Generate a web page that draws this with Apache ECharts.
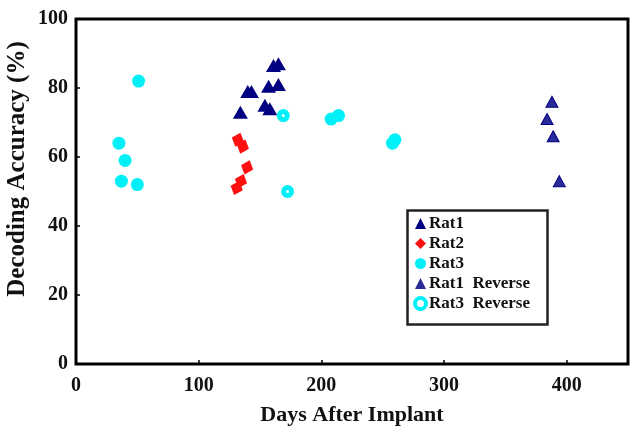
<!DOCTYPE html>
<html>
<head>
<meta charset="utf-8">
<script src="https://cdn.jsdelivr.net/npm/echarts@6/dist/echarts.min.js"></script>
<style>
html,body{margin:0;padding:0;background:#fff;}
#chart{width:636px;height:432px;}
</style>
</head>
<body>
<div id="chart"></div>
<script>
// Data
var rat1Days = [134, 140, 143, 157, 165, 154, 158, 161, 165];
var rat1Acc  = [73, 79, 79, 80.5, 81, 75, 74, 86.5, 87];
var rat2Days = [132, 136, 139.5, 134.5, 131];
var rat2Acc  = [65, 63, 57, 53, 51];
var rat3Days = [51, 35, 40, 37, 50, 208, 214, 258, 260];
var rat3Acc  = [82, 64, 59, 53, 52, 71, 72, 64, 65];
var rat1RevDays = [388, 384, 389, 394];
var rat1RevAcc  = [76, 71, 66, 53];
var rat3RevDays = [169, 172.5];
var rat3RevAcc  = [72, 50];
var xTicks = [0, 100, 200, 300, 400];
var yTicks = [0, 20, 40, 60, 80, 100];

function pairs(xs, ys) { return xs.map(function (x, i) { return [x, ys[i]]; }); }

var font = 'Liberation Serif';
var chart = echarts.init(document.getElementById('chart'));
chart.setOption({
  animation: false,
  backgroundColor: '#fff',
  grid: { left: 76, right: 8, top: 19, bottom: 68, show: true, borderColor: '#000', borderWidth: 3, outerBoundsMode: 'none', containLabel: false },
  xAxis: {
    type: 'value', min: 0, max: 450, interval: 100,
    name: 'Days After Implant', nameLocation: 'middle', nameGap: 40,
    nameTextStyle: { fontFamily: font, fontSize: 22, fontWeight: 'bold', color: '#111' },
    axisLine: { show: false },
    axisTick: { show: true, inside: true, length: 4, lineStyle: { color: '#000', width: 1.5 } },
    splitLine: { show: false },
    axisLabel: {
      fontFamily: font, fontSize: 20, fontWeight: 'bold', color: '#111', margin: 12,
      formatter: function (v) { return xTicks.indexOf(v) >= 0 ? String(v) : ''; }
    }
  },
  yAxis: {
    type: 'value', min: 0, max: 100, interval: 20,
    axisLine: { show: false },
    axisTick: { show: true, inside: true, length: 4, lineStyle: { color: '#000', width: 1.5 } },
    splitLine: { show: false },
    axisLabel: {
      fontFamily: font, fontSize: 20, fontWeight: 'bold', color: '#111', margin: 8,
      formatter: function (v) { return yTicks.indexOf(v) >= 0 ? String(v) : ''; }
    }
  },
  legend: {
    orient: 'vertical', left: 408, top: 210,
    itemWidth: 11, itemHeight: 11, itemGap: 3,
    textStyle: { fontFamily: font, fontSize: 17, fontWeight: 'bold', color: '#111', lineHeight: 17, padding: [0, 0, 0, -2] },
    data: [
      { name: 'Rat1' },
      { name: 'Rat2' },
      { name: 'Rat3' },
      { name: 'Rat1  Reverse', itemStyle: { borderWidth: 0 } },
      { name: 'Rat3  Reverse', itemStyle: { borderWidth: 4 } }
    ]
  },
  graphic: [{
    type: 'rect', left: 405, top: 208, z: 100,
    shape: { width: 140, height: 114 },
    style: { fill: 'none', stroke: '#222', lineWidth: 2.5 }
  }, {
    type: 'text', x: 18, y: 169, rotation: Math.PI / 2, z: 100,
    style: { text: 'Decoding Accuracy (%)', fontFamily: font, fontSize: 25, fontWeight: 'bold', fill: '#111', align: 'center', verticalAlign: 'middle' }
  }],
  series: [
    { name: 'Rat1', type: 'scatter', symbol: 'triangle', symbolSize: [15, 13],
      itemStyle: { color: '#000080', opacity: 1 }, data: pairs(rat1Days, rat1Acc) },
    { name: 'Rat2', type: 'scatter', symbol: 'diamond', symbolSize: [13, 15], symbolRotate: -20,
      itemStyle: { color: '#ff1010', opacity: 1 }, data: pairs(rat2Days, rat2Acc) },
    { name: 'Rat3', type: 'scatter', symbol: 'circle', symbolSize: 13,
      itemStyle: { color: '#00f0f8', opacity: 1 }, data: pairs(rat3Days, rat3Acc) },
    { name: 'Rat1  Reverse', type: 'scatter', symbol: 'triangle', symbolSize: [12, 11],
      itemStyle: { color: '#2a2a98', borderColor: '#000080', borderWidth: 1, opacity: 1 }, data: pairs(rat1RevDays, rat1RevAcc) },
    { name: 'Rat3  Reverse', type: 'scatter', symbol: 'circle', symbolSize: 8,
      itemStyle: { color: '#ffffff', borderColor: '#00f0f8', borderWidth: 5, opacity: 1 }, data: pairs(rat3RevDays, rat3RevAcc) }
  ]
});
</script>
</body>
</html>
